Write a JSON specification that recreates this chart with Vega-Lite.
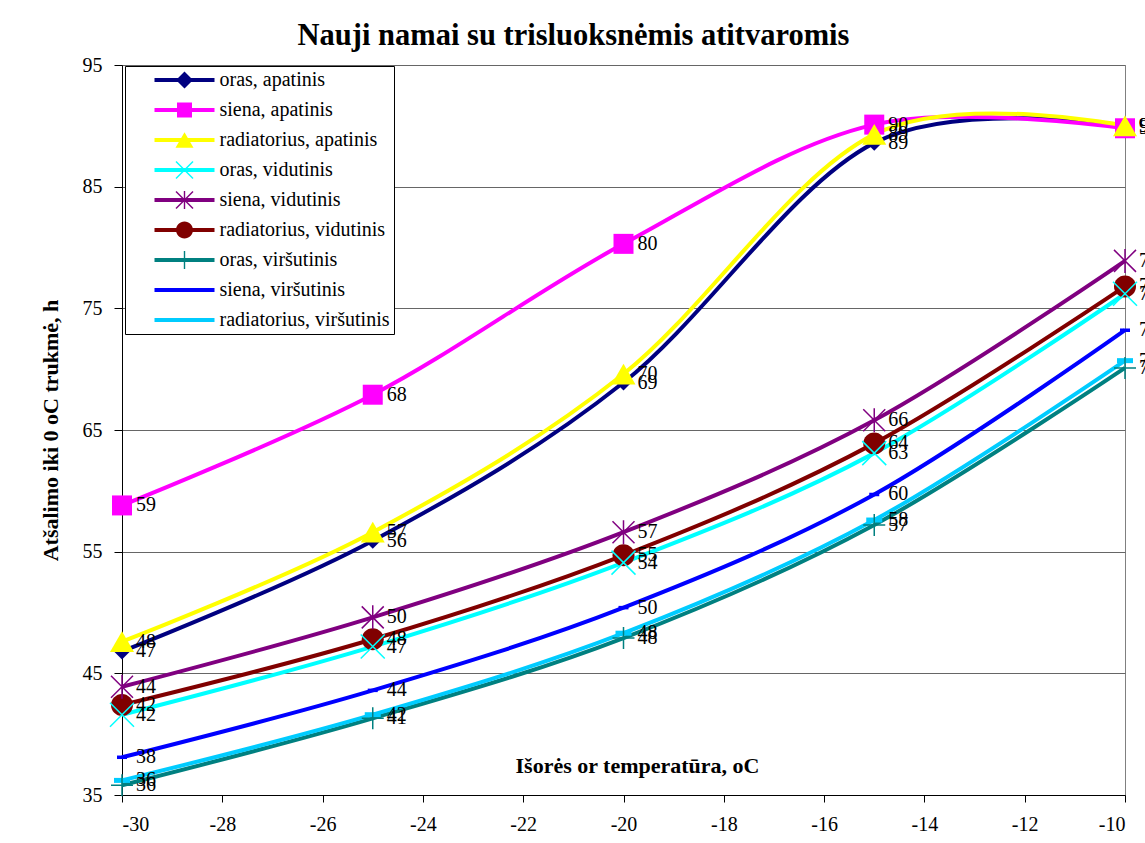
{
  "$schema": "https://vega.github.io/schema/vega-lite/v6.json",
  "width": 1003,
  "height": 730,
  "autosize": {"type": "none"},
  "padding": {"left": 122, "top": 65, "right": 20, "bottom": 48},
  "background": "white",
  "title": {
    "text": "Nauji namai su trisluoksnėmis atitvaromis",
    "font": "Liberation Serif",
    "fontSize": 30.5,
    "fontWeight": "bold",
    "color": "black",
    "anchor": "middle",
    "dx": -50,
    "offset": 4
  },
  "config": {
    "view": {"stroke": "#808080", "strokeWidth": 1},
    "axis": {"labelFont": "Liberation Serif", "titleFont": "Liberation Serif", "labelColor": "black", "titleColor": "black"}
  },
  "data": {
    "values": [
      {"series": "oras, apatinis", "t": -30, "v": 46.8},
      {"series": "oras, apatinis", "t": -25, "v": 55.9},
      {"series": "oras, apatinis", "t": -20, "v": 68.9},
      {"series": "oras, apatinis", "t": -15, "v": 88.6},
      {"series": "oras, apatinis", "t": -10, "v": 90.0},
      {"series": "siena, apatinis", "t": -30, "v": 58.8},
      {"series": "siena, apatinis", "t": -25, "v": 67.9},
      {"series": "siena, apatinis", "t": -20, "v": 80.3},
      {"series": "siena, apatinis", "t": -15, "v": 90.1},
      {"series": "siena, apatinis", "t": -10, "v": 89.8},
      {"series": "radiatorius, apatinis", "t": -30, "v": 47.6},
      {"series": "radiatorius, apatinis", "t": -25, "v": 56.6},
      {"series": "radiatorius, apatinis", "t": -20, "v": 69.6},
      {"series": "radiatorius, apatinis", "t": -15, "v": 89.3},
      {"series": "radiatorius, apatinis", "t": -10, "v": 90.0},
      {"series": "oras, vidutinis", "t": -30, "v": 41.6},
      {"series": "oras, vidutinis", "t": -25, "v": 47.2},
      {"series": "oras, vidutinis", "t": -20, "v": 54.1},
      {"series": "oras, vidutinis", "t": -15, "v": 63.1},
      {"series": "oras, vidutinis", "t": -10, "v": 76.2},
      {"series": "siena, vidutinis", "t": -30, "v": 43.9},
      {"series": "siena, vidutinis", "t": -25, "v": 49.6},
      {"series": "siena, vidutinis", "t": -20, "v": 56.6},
      {"series": "siena, vidutinis", "t": -15, "v": 65.8},
      {"series": "siena, vidutinis", "t": -10, "v": 78.9},
      {"series": "radiatorius, vidutinis", "t": -30, "v": 42.4},
      {"series": "radiatorius, vidutinis", "t": -25, "v": 47.8},
      {"series": "radiatorius, vidutinis", "t": -20, "v": 54.7},
      {"series": "radiatorius, vidutinis", "t": -15, "v": 63.9},
      {"series": "radiatorius, vidutinis", "t": -10, "v": 76.8},
      {"series": "oras, viršutinis", "t": -30, "v": 35.8},
      {"series": "oras, viršutinis", "t": -25, "v": 41.3},
      {"series": "oras, viršutinis", "t": -20, "v": 47.9},
      {"series": "oras, viršutinis", "t": -15, "v": 57.2},
      {"series": "oras, viršutinis", "t": -10, "v": 70.1},
      {"series": "siena, viršutinis", "t": -30, "v": 38.1},
      {"series": "siena, viršutinis", "t": -25, "v": 43.6},
      {"series": "siena, viršutinis", "t": -20, "v": 50.4},
      {"series": "siena, viršutinis", "t": -15, "v": 59.7},
      {"series": "siena, viršutinis", "t": -10, "v": 73.2},
      {"series": "radiatorius, viršutinis", "t": -30, "v": 36.2},
      {"series": "radiatorius, viršutinis", "t": -25, "v": 41.6},
      {"series": "radiatorius, viršutinis", "t": -20, "v": 48.3},
      {"series": "radiatorius, viršutinis", "t": -15, "v": 57.6},
      {"series": "radiatorius, viršutinis", "t": -10, "v": 70.7}
    ]
  },
  "encoding": {
    "x": {
      "field": "t", "type": "quantitative",
      "scale": {"domain": [-30, -10], "nice": false, "zero": false},
      "axis": {
        "values": [-30, -28, -26, -24, -22, -20, -18, -16, -14, -12, -10],
        "labelExpr": "'' + datum.value",
        "grid": false,
        "domainColor": "black",
        "tickColor": "black",
        "tickSize": 7,
        "labelPadding": 12,
        "labelFontSize": 20,
        "title": "Išorės or temperatūra, oC",
        "titleFontSize": 22,
        "titleFontWeight": "bold",
        "titleX": 515,
        "titleY": -23,
        "titleAlign": "center",
        "titleBaseline": "alphabetic"
      }
    },
    "y": {
      "field": "v", "type": "quantitative",
      "scale": {"domain": [35, 95], "nice": false, "zero": false},
      "axis": {
        "values": [35, 45, 55, 65, 75, 85, 95],
        "grid": true,
        "gridColor": "#666666",
        "gridOpacity": 1,
        "domainColor": "black",
        "tickColor": "black",
        "tickSize": 8,
        "labelPadding": 12,
        "labelFontSize": 20,
        "title": "Atšalimo iki 0 oC trukmė, h",
        "titleFontSize": 22,
        "titleFontWeight": "bold",
        "titlePadding": 20
      }
    }
  },
  "resolve": {"scale": {"color": "independent", "shape": "independent"}},
  "layer": [
    {
      "mark": {"type": "line", "strokeWidth": 4, "interpolate": "cardinal"},
      "encoding": {
        "color": {
          "field": "series", "type": "nominal", "legend": null,
          "scale": {
            "domain": ["oras, apatinis", "siena, apatinis", "radiatorius, apatinis", "oras, vidutinis", "siena, vidutinis", "radiatorius, vidutinis", "oras, viršutinis", "siena, viršutinis", "radiatorius, viršutinis"],
            "range": ["#000080", "#FF00FF", "#FFFF00", "#00FFFF", "#800080", "#800000", "#008080", "#0000FF", "#00CCFF"]
          }
        }
      }
    },
    {
      "transform": [{"filter": {"field": "series", "oneOf": ["oras, apatinis", "siena, apatinis", "radiatorius, apatinis", "radiatorius, vidutinis", "siena, viršutinis", "radiatorius, viršutinis"]}}],
      "mark": {"type": "point", "filled": true, "opacity": 1, "size": 100, "strokeWidth": 0},
      "encoding": {
        "color": {
          "field": "series", "type": "nominal", "legend": null,
          "scale": {
            "domain": ["oras, apatinis", "siena, apatinis", "radiatorius, apatinis", "oras, vidutinis", "siena, vidutinis", "radiatorius, vidutinis", "oras, viršutinis", "siena, viršutinis", "radiatorius, viršutinis"],
            "range": ["#000080", "#FF00FF", "#FFFF00", "#00FFFF", "#800080", "#800000", "#008080", "#0000FF", "#00CCFF"]
          }
        },
        "shape": {
          "field": "series", "type": "nominal", "legend": null,
          "scale": {
            "domain": ["oras, apatinis", "siena, apatinis", "radiatorius, apatinis", "radiatorius, vidutinis", "siena, viršutinis", "radiatorius, viršutinis"],
            "range": [
              "M0,-1.6L1.6,0L0,1.6L-1.6,0Z",
              "M-2,-2H2V2H-2Z",
              "M0,-2.08L2.4,2.08L-2.4,2.08Z",
              "M-2.2,0A2.2,2.2 0 1,1 2.2,0A2.2,2.2 0 1,1 -2.2,0Z",
              "M-1,-0.35H1V0.35H-1Z",
              "M-1.6,-0.5H1.6V0.5H-1.6Z"
            ]
          }
        }
      }
    },
    {
      "transform": [{"filter": {"field": "series", "oneOf": ["oras, vidutinis", "siena, vidutinis", "oras, viršutinis"]}}],
      "mark": {"type": "point", "filled": false, "opacity": 1, "size": 100, "strokeWidth": 1.5},
      "encoding": {
        "color": {
          "field": "series", "type": "nominal", "legend": null,
          "scale": {
            "domain": ["oras, apatinis", "siena, apatinis", "radiatorius, apatinis", "oras, vidutinis", "siena, vidutinis", "radiatorius, vidutinis", "oras, viršutinis", "siena, viršutinis", "radiatorius, viršutinis"],
            "range": ["#000080", "#FF00FF", "#FFFF00", "#00FFFF", "#800080", "#800000", "#008080", "#0000FF", "#00CCFF"]
          }
        },
        "shape": {
          "field": "series", "type": "nominal", "legend": null,
          "scale": {
            "domain": ["oras, vidutinis", "siena, vidutinis", "oras, viršutinis"],
            "range": [
              "M-2.4,-2.4L2.4,2.4M-2.4,2.4L2.4,-2.4",
              "M-2.2,-2.2L2.2,2.2M-2.2,2.2L2.2,-2.2M0,-2.4V2.4",
              "M-2.2,0H2.2M0,-2.2V2.2"
            ]
          }
        }
      }
    },
    {
      "mark": {"type": "text", "align": "left", "baseline": "middle", "dx": 14, "font": "Liberation Serif", "fontSize": 20, "color": "black"},
      "encoding": {
        "text": {"field": "v", "type": "quantitative", "format": ".0f"}
      }
    },
    {
      "transform": [{"filter": "datum.v > 1000"}],
      "mark": {"type": "point", "filled": true, "opacity": 1, "size": 100},
      "encoding": {
        "color": {
          "field": "series", "type": "nominal",
          "scale": {
            "domain": ["oras, apatinis", "siena, apatinis", "radiatorius, apatinis", "oras, vidutinis", "siena, vidutinis", "radiatorius, vidutinis", "oras, viršutinis", "siena, viršutinis", "radiatorius, viršutinis"],
            "range": ["#000080", "#FF00FF", "#FFFF00", "#00FFFF", "#800080", "#800000", "#008080", "#0000FF", "#00CCFF"]
          },
          "legend": {"title": null, "orient": "none", "legendX": 3, "legendY": 1, "padding": 4, "rowPadding": 10, "symbolOffset": 45.5, "labelOffset": 25, "labelFont": "Liberation Serif", "labelFontSize": 20, "labelColor": "black", "strokeColor": "black", "fillColor": "white", "symbolStrokeWidth": 0, "symbolOpacity": 1, "symbolSize": 100, "labelLimit": 400, "cornerRadius": 0}
        },
        "shape": {
          "field": "series", "type": "nominal",
          "scale": {
            "domain": ["oras, apatinis", "siena, apatinis", "radiatorius, apatinis", "oras, vidutinis", "siena, vidutinis", "radiatorius, vidutinis", "oras, viršutinis", "siena, viršutinis", "radiatorius, viršutinis"],
            "range": [
              "M-6,-0.4H6V0.4H-6ZM0,-1.7L1.7,0L0,1.7L-1.7,0Z",
              "M-6,-0.4H6V0.4H-6ZM-1.5,-1.5H1.5V1.5H-1.5Z",
              "M-6,-0.4H6V0.4H-6ZM0,-1.56L1.8,1.56L-1.8,1.56Z",
              "M-6,-0.4H6V0.4H-6ZM-1.8,-1.6L-1.6,-1.8L1.8,1.6L1.6,1.8ZM-1.8,1.6L1.6,-1.8L1.8,-1.6L-1.6,1.8Z",
              "M-6,-0.4H6V0.4H-6ZM-1.8,-1.6L-1.6,-1.8L1.8,1.6L1.6,1.8ZM-1.8,1.6L1.6,-1.8L1.8,-1.6L-1.6,1.8ZM-0.14,-1.8H0.14V1.8H-0.14Z",
              "M-6,-0.4H6V0.4H-6ZM-1.7,0A1.7,1.7 0 1,1 1.7,0A1.7,1.7 0 1,1 -1.7,0Z",
              "M-6,-0.4H6V0.4H-6ZM-0.14,-1.8H0.14V1.8H-0.14Z",
              "M-6,-0.4H6V0.4H-6Z",
              "M-6,-0.4H6V0.4H-6Z"
            ]
          },
          "legend": {"title": null, "orient": "none", "legendX": 3, "legendY": 1, "padding": 4, "rowPadding": 10, "symbolOffset": 45.5, "labelOffset": 25, "labelFont": "Liberation Serif", "labelFontSize": 20, "labelColor": "black", "strokeColor": "black", "fillColor": "white", "symbolStrokeWidth": 0, "symbolOpacity": 1, "symbolSize": 100, "labelLimit": 400, "cornerRadius": 0}
        }
      }
    }
  ]
}
